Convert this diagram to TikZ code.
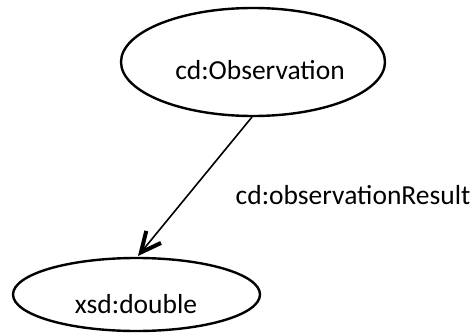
\documentclass[tikz,border=0pt]{standalone}
\usepackage{fontspec}
\setmainfont{Carlito}
\usetikzlibrary{arrows.meta,shapes.geometric}
\begin{document}
\begin{tikzpicture}[x=1pt,y=-1pt,
  concept/.style={draw=black,line width=2.4pt,ellipse,inner sep=0pt},
  lbl/.style={font=\fontsize{27.5}{32}\selectfont,inner sep=0pt},
  rel/.style={line width=1.6pt,-{Straight Barb[length=20pt,width=19pt,line width=4pt]}}]
\useasboundingbox (0,0) rectangle (476,334);
% class and datatype ellipses
\node[concept,minimum width=264pt,minimum height=108pt] (obs) at (253,62) {};
\node[concept,minimum width=247pt,minimum height=73pt] (dbl) at (136.5,294.5) {};
\node[lbl] (obst) at (260,70) {cd:Observation};
\node[lbl] (dblt) at (136,304) {xsd:double};
% property edge
\coordinate (s) at (252,117);
\coordinate (t) at (138,256);
\draw[rel] (s) -- (t);
\node[lbl] (prop) at (353,195) {cd:observationResult};
\end{tikzpicture}
\end{document}
